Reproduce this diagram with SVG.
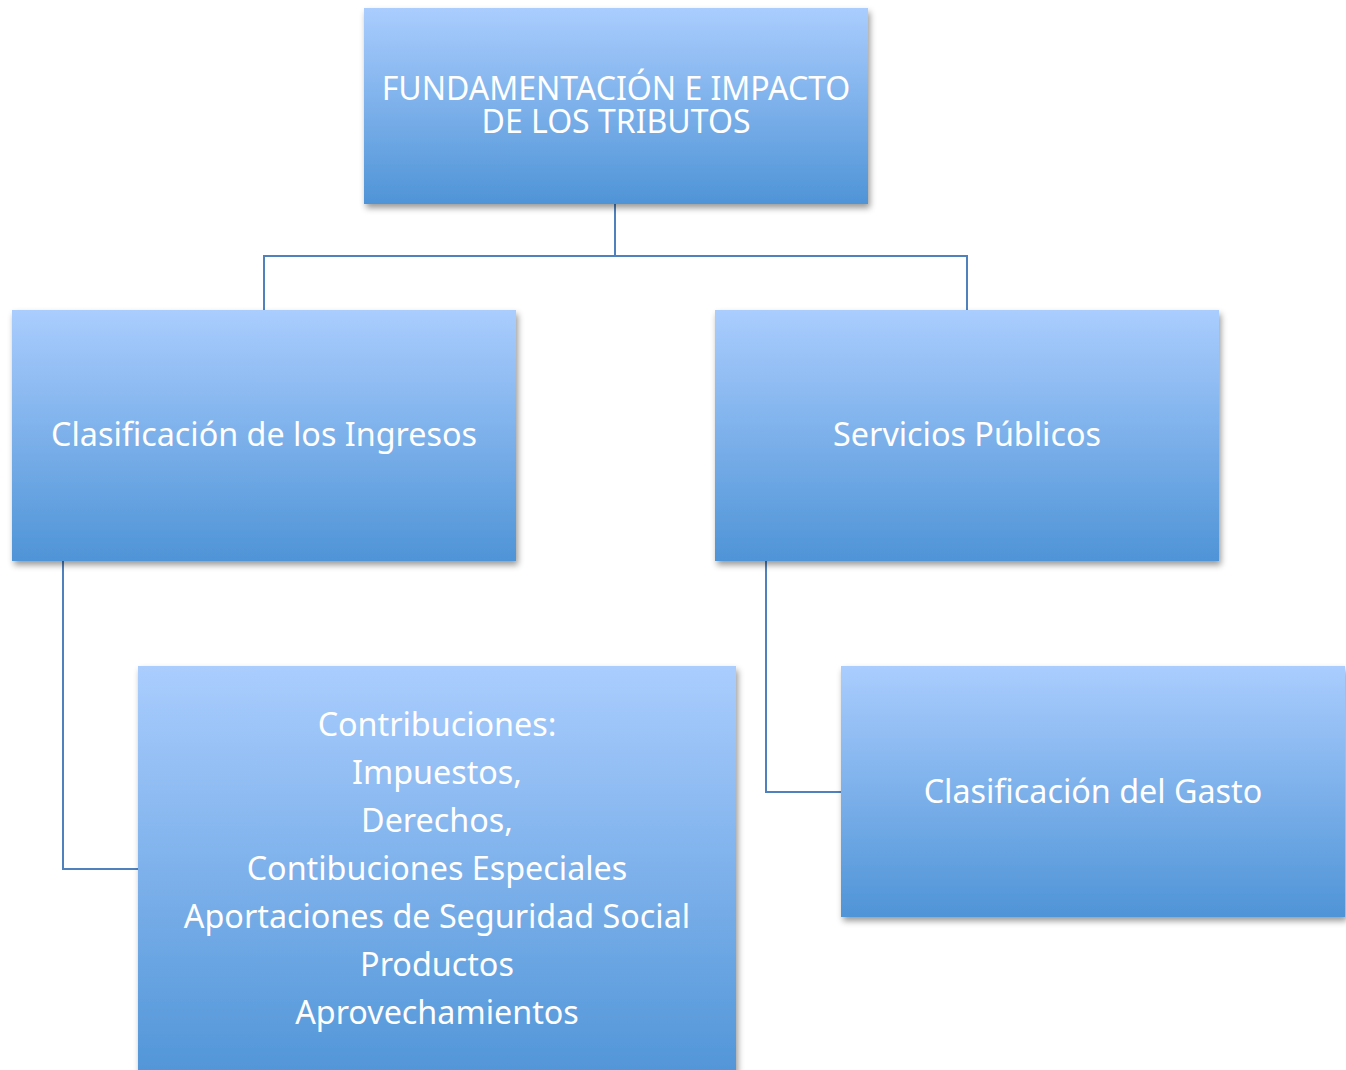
<svg xmlns="http://www.w3.org/2000/svg" width="1346" height="1070" viewBox="0 0 1346 1070">
<defs>
<linearGradient id="g" x1="0" y1="0" x2="0" y2="1">
<stop offset="0" stop-color="#aacdfe"/>
<stop offset="1" stop-color="#4f94d7"/>
</linearGradient>
<filter id="sh" x="-5%" y="-5%" width="115%" height="120%">
<feDropShadow dx="2" dy="4" stdDeviation="3" flood-color="#000" flood-opacity="0.4"/>
</filter>
</defs>
<style>
.box{fill:url(#g);filter:url(#sh)}
.t{fill:#fff;font-family:"Noto Sans","Open Sans",sans-serif;font-size:32.3px;text-anchor:middle}
.tt{fill:#fff;font-family:"Noto Sans","Open Sans",sans-serif;font-size:32px;text-anchor:middle}
.c{fill:none;stroke:#4f81bd;stroke-width:2}
</style>
<rect width="1346" height="1070" fill="#fff"/>
<g id="connectors">
<path class="c" d="M615,204 V256 M264,310 V256 H967 V310"/>
<path class="c" d="M63,561 V869 H138"/>
<path class="c" d="M766,561 V792 H841"/>
</g>
<g id="n-top">
<rect class="box" x="364" y="8" width="504" height="196"/>
<text class="tt"><tspan x="616" y="100">FUNDAMENTACIÓN E IMPACTO</tspan><tspan x="616" y="133">DE LOS TRIBUTOS</tspan></text>
</g>
<g id="n-ingresos">
<rect class="box" x="12" y="310" width="504" height="251"/>
<text class="t" x="264" y="446">Clasificación de los Ingresos</text>
</g>
<g id="n-servicios">
<rect class="box" x="715" y="310" width="504" height="251"/>
<text class="t" x="967" y="446">Servicios Públicos</text>
</g>
<g id="n-contribuciones">
<rect class="box" x="138" y="666" width="598" height="420"/>
<text class="t" x="437" y="736">Contribuciones:</text>
<text class="t" x="437" y="784">Impuestos,</text>
<text class="t" x="437" y="832">Derechos,</text>
<text class="t" x="437" y="880">Contibuciones Especiales</text>
<text class="t" x="437" y="928">Aportaciones de Seguridad Social</text>
<text class="t" x="437" y="976">Productos</text>
<text class="t" x="437" y="1024">Aprovechamientos</text>
</g>
<g id="n-gasto">
<rect class="box" x="841" y="666" width="504" height="251"/>
<text class="t" x="1093" y="803">Clasificación del Gasto</text>
</g>
</svg>
